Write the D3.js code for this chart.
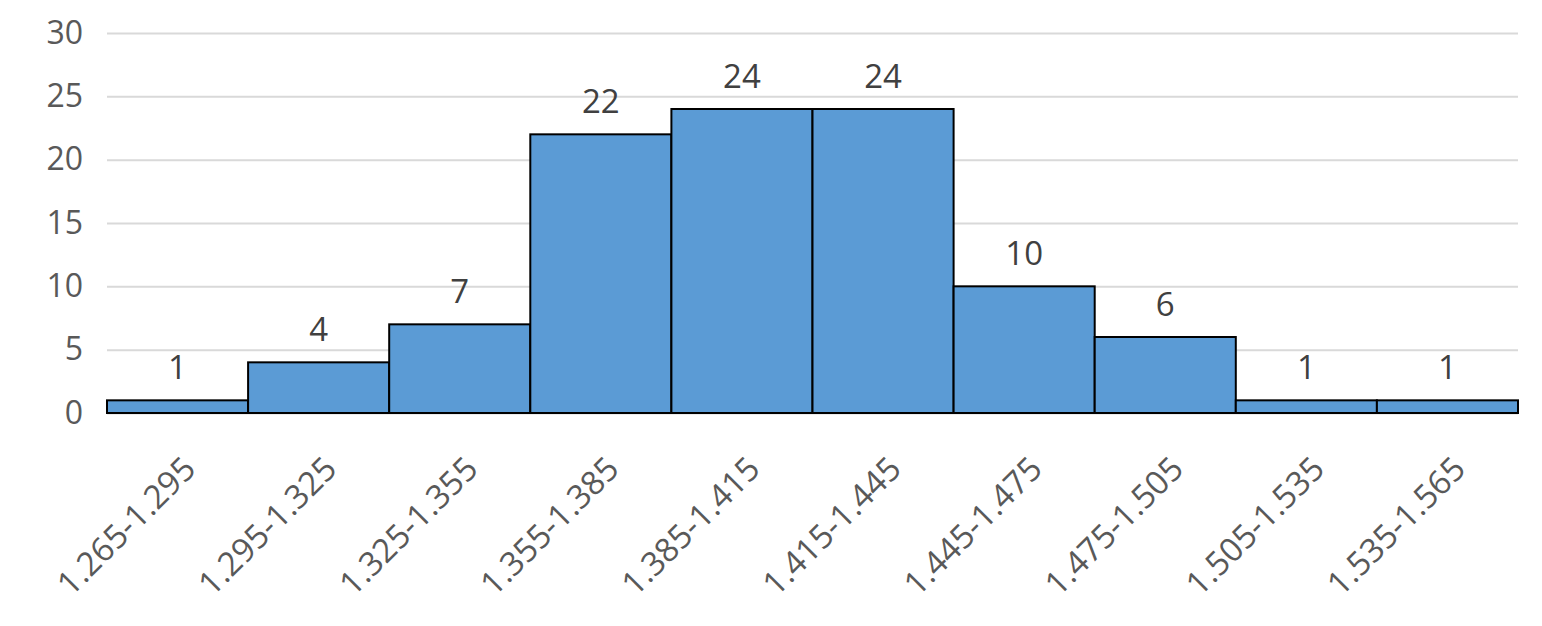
<!DOCTYPE html>
<html>
<head>
<meta charset="utf-8">
<style>
  body { margin: 0; background: #fff; }
  text { font-family: "Open Sans", sans-serif; }
</style>
</head>
<body>
<div id="container"></div>
<script src="https://d3js.org/d3.v7.min.js"></script>
<script>
// Bin labels and counts
const bins = ["1.265-1.295", "1.295-1.325", "1.325-1.355", "1.355-1.385", "1.385-1.415",
              "1.415-1.445", "1.445-1.475", "1.475-1.505", "1.505-1.535", "1.535-1.565"];
const counts = [1, 4, 7, 22, 24, 24, 10, 6, 1, 1];
const yTicks = [0, 5, 10, 15, 20, 25, 30];

const width = 1542;
const height = 626;
const marginTop = 33;
const marginRight = 24;
const marginLeft = 107;
const plotBottom = 413;

const x = d3.scaleBand()
    .domain(bins)
    .range([marginLeft, width - marginRight])
    .padding(0);

const y = d3.scaleLinear()
    .domain([0, 30])
    .range([plotBottom, marginTop]);

const svg = d3.create("svg")
    .attr("width", width)
    .attr("height", height);

// gridlines + y labels
const yAxis = svg.append("g")
    .attr("transform", `translate(${marginLeft},0)`)
    .call(d3.axisLeft(y).tickValues(yTicks).tickSize(-(width - marginRight - marginLeft)).tickPadding(24));
yAxis.select(".domain").remove();
yAxis.selectAll(".tick line").attr("stroke", "#d9d9d9").attr("stroke-width", 2);
yAxis.selectAll(".tick text")
    .attr("fill", "#595959")
    .style("font-size", "32px");

// bars
svg.append("g")
  .selectAll("rect")
  .data(counts)
  .join("rect")
    .attr("x", (d, i) => x(bins[i]))
    .attr("y", d => y(d))
    .attr("width", x.bandwidth())
    .attr("height", d => y(0) - y(d))
    .attr("fill", "#5b9bd5")
    .attr("stroke", "#000")
    .attr("stroke-width", 2);

// data labels
svg.append("g")
  .selectAll("text")
  .data(counts)
  .join("text")
    .attr("x", (d, i) => x(bins[i]) + x.bandwidth() / 2)
    .attr("y", d => y(d) - 21)
    .attr("text-anchor", "middle")
    .attr("fill", "#404040")
    .style("font-size", "33px")
    .text(d => d);

// x axis labels
const xAxis = svg.append("g")
    .attr("transform", `translate(0,${plotBottom})`)
    .call(d3.axisBottom(x).tickSize(0).tickPadding(0));
xAxis.select(".domain").remove();
xAxis.selectAll(".tick text")
    .attr("fill", "#595959")
    .style("font-size", "33px")
    .attr("text-anchor", "end")
    .attr("dy", null)
    .attr("transform", "translate(20,58) rotate(-45)");

document.getElementById("container").append(svg.node());
</script>
</body>
</html>
